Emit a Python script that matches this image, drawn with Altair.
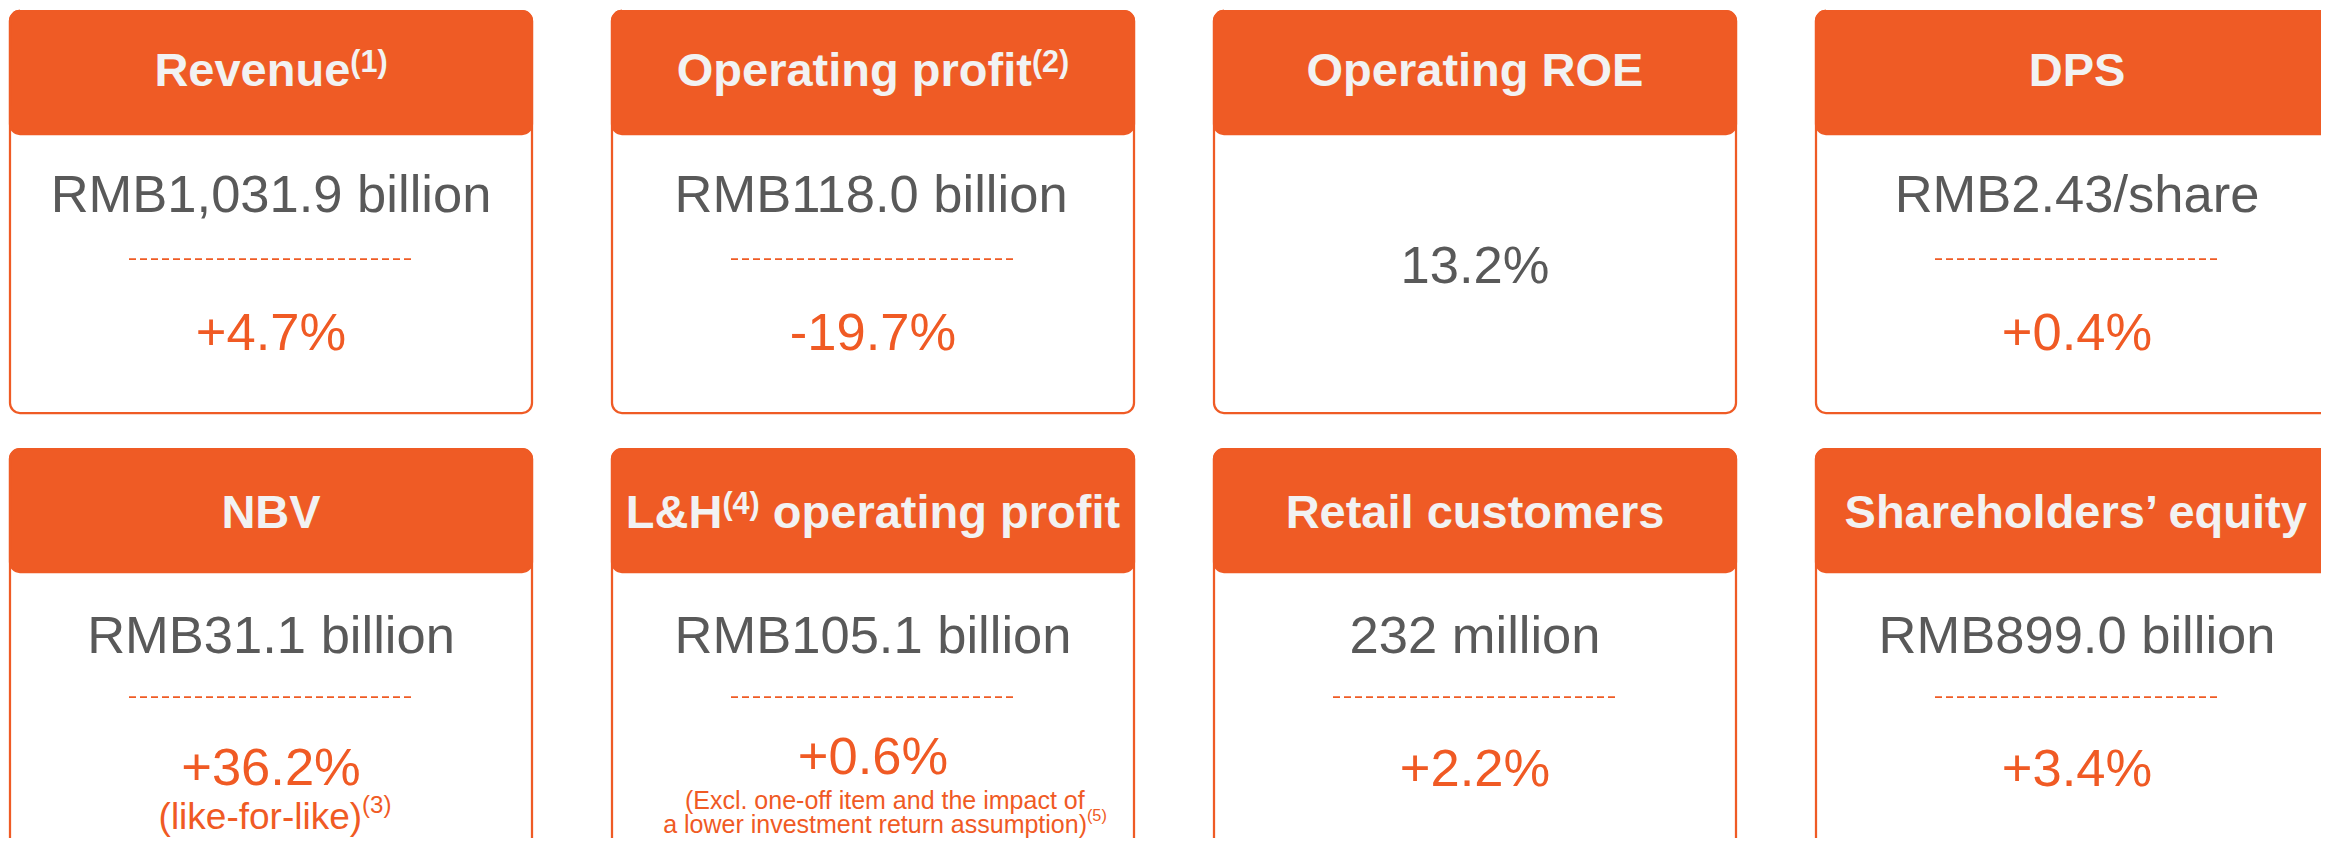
import altair as alt
import pandas as pd

# ---------------- data ----------------
titles = ["Revenue{(1)}", "Operating profit{(2)}", "Operating ROE", "DPS",
          "NBV", "L&H{(4)} operating profit", "Retail customers", "Shareholders’ equity"]
values = ["RMB1,031.9 billion", "RMB118.0 billion", "13.2%", "RMB2.43/share",
          "RMB31.1 billion", "RMB105.1 billion", "232 million", "RMB899.0 billion"]
changes = ["+4.7%", "-19.7%", "", "+0.4%", "+36.2%", "+0.6%", "+2.2%", "+3.4%"]
notes = ["", "", "", "",
         "(like-for-like){(3)}",
         "(Excl. one-off item and the impact of\na lower investment return assumption){(5)}",
         "", ""]

# ---------------- style / layout ----------------
ORANGE = "#EF5B25"
TXT_ORANGE = "#F05A24"
GRAY = "#595959"
HEAD_TXT = "#F2F2F2"
FONT = "Liberation Sans"

W, H = 2313, 830          # plot area; page offset 8px
COLS = 4
LEFT0, PITCH, CARD_W = 10, 602, 522
ROWS = [
    dict(top=11, head=134, bottom=413, head_base=86, val_base=212, dash=259,
         chg_base=350, val_only=283),
    dict(top=449, head=572, bottom=900, head_base=528, val_base=653, dash=697,
         chg_base=786, val_only=700),
]
HEAD_SIZE, VAL_SIZE = 47, 52.5
DASH_W = 284

REG = {' ': 278, '(': 333, ')': 333, '+': 584, '-': 333, '.': 278, ',': 278, '/': 278,
       '%': 889, '&': 667, '’': 222,
       'A': 667, 'B': 667, 'C': 722, 'D': 722, 'E': 667, 'F': 611, 'G': 778, 'H': 722,
       'I': 278, 'L': 556, 'M': 833, 'N': 722, 'O': 778, 'P': 667, 'R': 722, 'S': 667,
       'T': 611, 'V': 667,
       'a': 556, 'b': 556, 'c': 500, 'd': 556, 'e': 556, 'f': 278, 'g': 556, 'h': 556,
       'i': 222, 'j': 222, 'k': 500, 'l': 222, 'm': 833, 'n': 556, 'o': 556, 'p': 556,
       'q': 556, 'r': 333, 's': 500, 't': 278, 'u': 556, 'v': 500, 'w': 722, 'x': 500,
       'y': 500, 'z': 500}
BOLD = {' ': 278, '(': 333, ')': 333, '&': 722, '’': 278,
        'B': 722, 'D': 722, 'E': 667, 'H': 722, 'L': 611, 'N': 722, 'O': 778, 'P': 667,
        'R': 722, 'S': 667, 'V': 667,
        'a': 556, 'c': 556, 'd': 611, 'e': 556, 'f': 333, 'g': 611, 'h': 611, 'i': 278,
        'l': 278, 'm': 889, 'n': 611, 'o': 611, 'p': 611, 'q': 611, 'r': 389, 's': 556,
        't': 333, 'u': 611, 'v': 556, 'y': 556}


def text_w(s, size, bold):
    tab = BOLD if bold else REG
    return sum(tab.get(c, 556) for c in s) / 1000.0 * size


def parse(s):
    segs, buf = [], ""
    for ch in s:
        if ch == "{":
            if buf:
                segs.append((buf, False))
            buf = ""
        elif ch == "}":
            segs.append((buf, True))
            buf = ""
        else:
            buf += ch
    if buf:
        segs.append((buf, False))
    return segs


def line_rows(s, cx, base, size, bold, color, raise_frac):
    segs = parse(s)
    sup_size = size * 0.65
    widths = [text_w(t, sup_size if sup else size, bold) for t, sup in segs]
    x = cx - sum(widths) / 2.0
    out = []
    for (t, sup), w in zip(segs, widths):
        sz = sup_size if sup else size
        stripped = t.lstrip(" ")
        lead = text_w(t[:len(t) - len(stripped)], sz, bold)
        out.append(dict(x=x + lead, y=base - (size * raise_frac if sup else 0),
                        text=stripped, size=sz, color=color, bold=bold))
        x += w
    return out


cards, dashes, texts = [], [], []
for i in range(len(titles)):
    r, c = divmod(i, COLS)
    g = ROWS[r]
    x0 = LEFT0 + c * PITCH
    x1 = x0 + CARD_W
    cx = (x0 + x1) / 2.0
    cards.append(dict(x0=x0, x1=x1, top=g["top"], head=g["head"], bottom=g["bottom"]))
    texts += line_rows(titles[i], cx, g["head_base"], HEAD_SIZE, True, HEAD_TXT, 0.30)
    n_lines = len(notes[i].split("\n")) if notes[i] else 0
    chg_base = g["chg_base"] + {0: 0, 1: -1, 2: -12}[n_lines]
    if changes[i]:
        texts += line_rows(values[i], cx, g["val_base"], VAL_SIZE, False, GRAY, 0)
        dashes.append(dict(x0=cx - DASH_W / 2, x1=cx + DASH_W / 2, y=g["dash"]))
        texts += line_rows(changes[i], cx, chg_base, VAL_SIZE, False, TXT_ORANGE, 0)
    else:
        texts += line_rows(values[i], cx, g["val_only"], VAL_SIZE, False, GRAY, 0)
    if n_lines == 1:
        texts += line_rows(notes[i], cx + 4, chg_base + 44, 37, False, TXT_ORANGE, 0.43)
    elif n_lines == 2:
        for k, ln in enumerate(notes[i].split("\n")):
            texts += line_rows(ln, cx + 12, chg_base + 35 + 24 * k, 25, False,
                               TXT_ORANGE, 0.5)

cards_df = pd.DataFrame(cards)
dash_df = pd.DataFrame(dashes)
text_df = pd.DataFrame(texts)

xs = alt.Scale(domain=[8, 8 + W], nice=False, zero=False)
ys = alt.Scale(domain=[8, 8 + H], nice=False, zero=False, reverse=True)

body = alt.Chart(cards_df).mark_rect(
    fill="white", stroke=ORANGE, strokeWidth=2.25, cornerRadius=10, clip=True
).encode(
    x=alt.X("x0:Q", scale=xs, axis=None), x2="x1:Q",
    y=alt.Y("top:Q", scale=ys, axis=None), y2="bottom:Q",
)

header = alt.Chart(cards_df).mark_rect(
    fill=ORANGE, stroke=ORANGE, strokeWidth=2.25, cornerRadius=10, clip=True
).encode(
    x=alt.X("x0:Q", scale=xs, axis=None), x2="x1:Q",
    y=alt.Y("top:Q", scale=ys, axis=None), y2="head:Q",
)

dash = alt.Chart(dash_df).mark_rule(
    color=ORANGE, strokeWidth=1.75, strokeDash=[7, 4]
).encode(
    x=alt.X("x0:Q", scale=xs, axis=None), x2="x1:Q",
    y=alt.Y("y:Q", scale=ys, axis=None),
)


def text_layer(bold):
    return alt.Chart(text_df[text_df["bold"] == bold]).mark_text(
        align="left", baseline="alphabetic", font=FONT,
        fontWeight="bold" if bold else "normal",
    ).encode(
        x=alt.X("x:Q", scale=xs, axis=None),
        y=alt.Y("y:Q", scale=ys, axis=None),
        text="text:N",
        size=alt.Size("size:Q", scale=None, legend=None),
        color=alt.Color("color:N", scale=None, legend=None),
    )


chart = alt.layer(body, header, dash, text_layer(True), text_layer(False)).properties(
    width=W, height=H, padding=0, autosize="none", background="white"
).configure_view(stroke=None)

chart.save("out.html", embed_options={"renderer": "svg", "actions": False})
